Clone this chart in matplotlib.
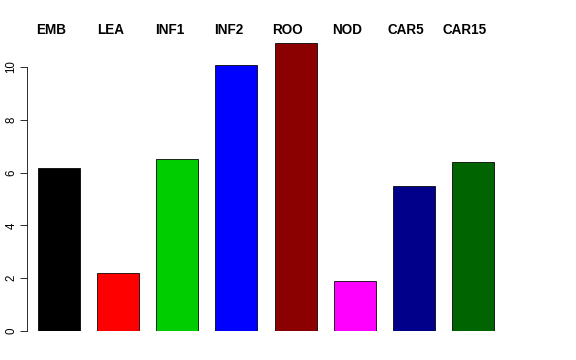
import matplotlib
matplotlib.use("Agg")
import matplotlib.pyplot as plt
import matplotlib.transforms as mtransforms
import numpy as np

categories = ["EMB", "LEA", "INF1", "INF2", "ROO", "NOD", "CAR5", "CAR15"]
values = [6.16, 2.18, 6.50, 10.08, 10.91, 1.90, 5.48, 6.40]
bar_colors = ["#000000", "#FF0000", "#00CD00", "#0000FF",
              "#8B0000", "#FF00FF", "#00008B", "#006400"]
y_ticks = [0, 2, 4, 6, 8, 10]

plt.rcParams["font.family"] = ["Liberation Sans", "DejaVu Sans"]

fig = plt.figure(figsize=(8, 5), dpi=72, facecolor="white")
ax = fig.add_axes([27 / 576, 29 / 360, 493 / 576, 291 / 360])

x = np.arange(len(categories))
ax.bar(x, values, width=0.71, color=bar_colors, edgecolor="black", linewidth=0.8)

ax.set_xlim(-0.541, 7.795)
ax.set_ylim(0, 291 / 26.4)

for side in ("top", "right", "bottom"):
    ax.spines[side].set_visible(False)
ax.spines["left"].set_bounds(0, 10)
ax.spines["left"].set_linewidth(0.8)
ax.set_xticks([])
ax.set_yticks(y_ticks)
ax.set_yticklabels([str(t) for t in y_ticks], rotation=90, va="center", fontsize=11.5)
ax.tick_params(axis="y", length=7, width=0.8, pad=2.5)

trans = mtransforms.blended_transform_factory(ax.transData, fig.transFigure)
for xi, name in zip(x, categories):
    ax.text(xi - 0.135, 1 - 34 / 360, name, transform=trans, ha="center",
            va="baseline", fontsize=13.5, fontweight="bold")

fig.savefig("out.png", dpi=72, facecolor="white")
